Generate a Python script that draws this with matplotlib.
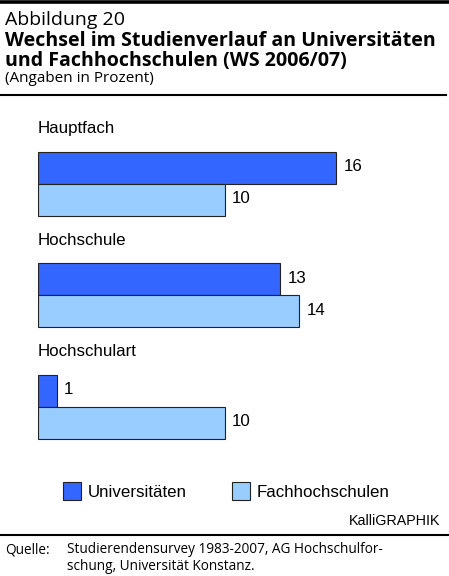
import matplotlib
matplotlib.use("Agg")
import matplotlib.pyplot as plt
from matplotlib.patches import Rectangle
from matplotlib.lines import Line2D

categories = ["Hauptfach", "Hochschule", "Hochschulart"]
series_names = ["Universitäten", "Fachhochschulen"]
uni_values = [16, 13, 1]
fh_values = [10, 14, 10]

title_1 = "Abbildung 20"
title_2a = "Wechsel im Studienverlauf an Universitäten"
title_2b = "und Fachhochschulen (WS 2006/07)"
subtitle = "(Angaben in Prozent)"
credit = "KalliGRAPHIK"
source_label = "Quelle:"
source_line1 = "Studierendensurvey 1983-2007, AG Hochschulfor-"
source_line2 = "schung, Universität Konstanz."

col_uni = "#3366FF"
col_fh = "#99CCFF"

W, H = 449, 576
fig = plt.figure(figsize=(W / 100, H / 100), dpi=100)
fig.patch.set_facecolor("white")

def fx(px):
    return px / W

def fy(py):
    return 1 - py / H

# Frame lines
fig.add_artist(Line2D([0, 1], [fy(1.5), fy(1.5)], color="black", lw=2.6, transform=fig.transFigure))
fig.add_artist(Line2D([0, 0.993], [fy(95), fy(95)], color="black", lw=1.5, transform=fig.transFigure))
fig.add_artist(Line2D([0, 1], [fy(534.5), fy(534.5)], color="black", lw=1.5, transform=fig.transFigure))

tfont = ["Open Sans", "DejaVu Sans"]
fig.text(fx(5), fy(25), title_1, fontsize=14.0, family=tfont, va="baseline", ha="left")
fig.text(fx(5), fy(45.5), title_2a, fontsize=14.1, family=tfont, fontweight="bold",
         va="baseline", ha="left")
fig.text(fx(5), fy(66), title_2b, fontsize=14.1, family=tfont, fontweight="bold",
         va="baseline", ha="left")
fig.text(fx(5), fy(81.5), subtitle, fontsize=11, family=tfont, va="baseline", ha="left")

# Bars axes
unit_px = 18.65
xmax = 20
ax = fig.add_axes([fx(38), fy(470), unit_px * xmax / W, (470 - 100) / H])
ax.set_xlim(0, xmax)
ax.set_ylim(470, 100)
ax.axis("off")

group_space = 111.5
first_top = 152.0
bar_h = 32.0
afont = ["Liberation Sans", "DejaVu Sans"]
fs = 12.2
for i, cat in enumerate(categories):
    top = first_top + i * group_space
    y_uni = top + bar_h / 2
    y_fh = top + bar_h * 1.5
    ax.barh([y_uni], [uni_values[i]], height=bar_h, color=col_uni, edgecolor="#222222", lw=0.8)
    ax.barh([y_fh], [fh_values[i]], height=bar_h, color=col_fh, edgecolor="#222222", lw=0.8)
    ax.text(0, top - 23, cat, fontsize=fs, family=afont, va="center", ha="left")
    ax.text(uni_values[i] + 0.4, y_uni - 1, str(uni_values[i]), fontsize=fs, family=afont,
            va="center", ha="left")
    ax.text(fh_values[i] + 0.4, y_fh - 1, str(fh_values[i]), fontsize=fs, family=afont,
            va="center", ha="left")

# Legend
leg_items = [(63, col_uni, series_names[0]), (232, col_fh, series_names[1])]
for x0, c, name in leg_items:
    fig.add_artist(Rectangle((fx(x0), fy(500)), 18 / W, 18 / H, facecolor=c,
                             edgecolor="#222222", lw=0.8, transform=fig.transFigure))
    fig.text(fx(x0 + 25), fy(497), name, fontsize=fs, family=afont, va="baseline", ha="left")

fig.text(fx(440), fy(525), credit, fontsize=10.3, family=afont, va="baseline", ha="right")
fig.text(fx(5), fy(553), source_label, fontsize=9.8, family=tfont, va="baseline", ha="left")
fig.text(fx(67), fy(553), source_line1, fontsize=9.8, family=tfont, va="baseline", ha="left")
fig.text(fx(67), fy(570), source_line2, fontsize=9.8, family=tfont, va="baseline", ha="left")

fig.savefig("out.png", dpi=100, facecolor="white")
